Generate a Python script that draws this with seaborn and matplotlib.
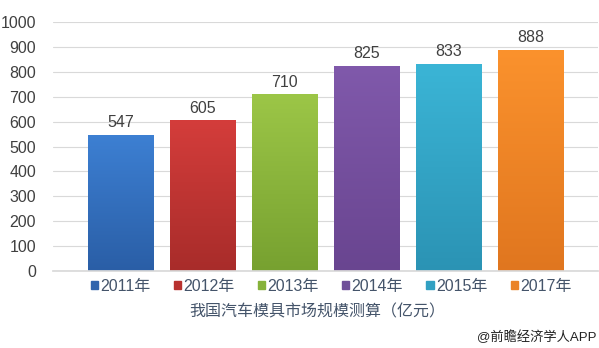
import numpy as np
import pandas as pd
import matplotlib
matplotlib.use("Agg")
import matplotlib.pyplot as plt
import matplotlib.colors as mcolors
import seaborn as sns

# data
years = ["2011年", "2012年", "2013年", "2014年", "2015年", "2017年"]
values = [547, 605, 710, 825, 833, 888]
top_colors = ["#3d80d3", "#d43d3b", "#9cc647", "#8059ab", "#3bb5d6", "#fb922d"]
bottom_colors = ["#2a5ea6", "#a82c2a", "#77a130", "#694590", "#2b93b4", "#e0761f"]
legend_colors = ["#3165ad", "#b83230", "#86b23a", "#70509a", "#31a0c2", "#ea8226"]

df = pd.DataFrame({"year": years, "value": values})

sns.set_theme(style="white")
plt.rcParams["font.family"] = ["Liberation Sans", "Noto Sans CJK SC", "DejaVu Sans"]

fig = plt.figure(figsize=(5.99, 3.48), dpi=100)
ax = fig.add_axes([0.088, 0.221, 0.91, 0.716])

sns.barplot(data=df, x="year", y="value", hue="year", palette=top_colors,
            width=0.8, legend=False, ax=ax, zorder=2)

# vertical gradient on each bar
for patch, c1, c2 in zip(ax.patches, top_colors, bottom_colors):
    x0, y0 = patch.get_x(), patch.get_y()
    w, h = patch.get_width(), patch.get_height()
    cmap = mcolors.LinearSegmentedColormap.from_list("g", [c2, c1])
    grad = np.linspace(0, 1, 256).reshape(-1, 1)
    im = ax.imshow(grad, cmap=cmap, aspect="auto", origin="lower",
                   extent=[x0, x0 + w, y0, y0 + h], zorder=2)
    im.set_clip_path(patch)
    patch.set_facecolor("none")
    patch.set_edgecolor("none")

for i, v in enumerate(values):
    ax.text(i, v + 18, str(v), ha="center", va="bottom", fontsize=11.5, color="#404040")

ax.set_xlim(-0.83, 5.82)
ax.set_ylim(0, 1000)
ax.set_yticks(range(0, 1001, 100))
ax.tick_params(axis="y", labelsize=11.5, colors="#404040", length=0, pad=12)
ax.set_xticks([])
ax.set_xlabel("")
ax.set_ylabel("")
ax.yaxis.grid(True, color="#d9d9d9", linewidth=0.8, zorder=0)
ax.set_axisbelow(True)
for s in ["top", "right", "left"]:
    ax.spines[s].set_visible(False)
ax.spines["bottom"].set_color("#d9d9d9")

handles = [plt.Rectangle((0, 0), 1, 1, color=c) for c in legend_colors]
fig.legend(handles, years, loc="center", bbox_to_anchor=(0.553, 0.178), ncol=6,
           frameon=False, fontsize=11.5, handlelength=0.45, handleheight=0.45,
           handletextpad=0.15, columnspacing=1.45, labelcolor="#44546a")

fig.text(0.53, 0.103, "我国汽车模具市场规模测算（亿元）", ha="center", va="center",
         fontsize=11.5, color="#44546a")
fig.text(0.995, 0.03, "@前瞻经济学人APP", ha="right", va="center",
         fontsize=9.5, color="#222222")

fig.savefig("out.png", dpi=100)
